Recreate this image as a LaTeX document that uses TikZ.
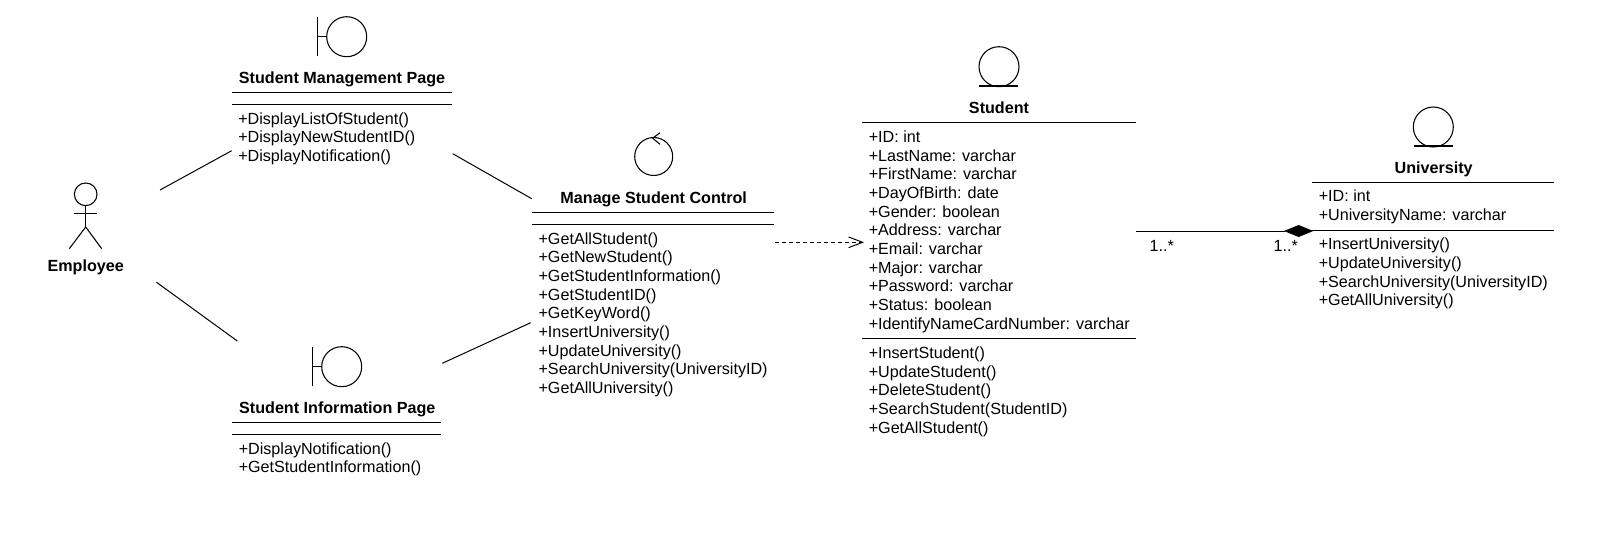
\documentclass[tikz,border=0pt]{standalone}
\usepackage{fontspec}
\setmainfont{Liberation Sans}
\usetikzlibrary{arrows.meta}
\tikzset{
classtitle/.style={
  font=\bfseries\fontsize{12.1pt}{14pt}\selectfont,
  text depth=0pt,
  inner sep=0pt
  }
}
\tikzset{
members/.style={
  font=\fontsize{12.1pt}{14pt}\selectfont,
  align=left,
  anchor=north west,
  inner sep=0pt
  }
}
\tikzset{
mult/.style={
  font=\fontsize{12.1pt}{14pt}\selectfont,
  inner sep=0pt
  }
}
\tikzstyle{rule} = [draw,line width=0.8pt]
\tikzstyle{edge} = [draw,line width=0.75pt]
\tikzstyle{glyph} = [draw,line width=0.8pt]
\begin{document}
\begin{tikzpicture}[x=0.75pt, y=-0.75pt]
	\path[use as bounding box] (0,0) rectangle (1603,532);

	%actor
	\node (empName) at (85.7,265.7) [classtitle] {Employee};
	\node (empHead) at (85.7,194.3) [circle,glyph,minimum size=17pt,inner sep=0pt] {};
	\coordinate (empHip) at (85.7,227);
	\draw[glyph] (empHead) -- (empHip);
	\draw[glyph] (74,213.3) -- (96.7,213.3);
	\draw[glyph] (69.3,248.7) -- (empHip) -- (101.7,248.7);

	%student management page
	\node (mgmtIcon) at (346.7,36.7) [circle,glyph,minimum size=30pt,inner sep=0pt] {};
	\draw[glyph] (317.3,17.3) -- (317.3,56);
	\draw[glyph] (317.3,36.7) -- (mgmtIcon);
	\node (mgmtName) at (342,77.7) [classtitle] {Student Management Page};
	\draw[rule] (232.3,92.3) -- (451.7,92.3);
	\draw[rule] (232.3,104.7) -- (451.7,104.7);
	\node (mgmtOps) at (238,112.3) [members] {+DisplayListOfStudent()\\+DisplayNewStudentID()\\+DisplayNotification()};

	%student information page
	\node (infoIcon) at (341.7,366.7) [circle,glyph,minimum size=30pt,inner sep=0pt] {};
	\draw[glyph] (312.7,347) -- (312.7,386);
	\draw[glyph] (312.7,366.7) -- (infoIcon);
	\node (infoName) at (337.3,407.7) [classtitle] {Student Information Page};
	\draw[rule] (232.3,422.3) -- (441.3,422.3);
	\draw[rule] (232.3,434.7) -- (441.3,434.7);
	\node (infoOps) at (238.5,442.3) [members] {+DisplayNotification()\\+GetStudentInformation()};

	%control
	\node (ctrlIcon) at (653.7,156.5) [circle,glyph,minimum size=28.5pt,inner sep=0pt] {};
	\draw[glyph] (660,132.7) -- (652.7,138.2) -- (660,144.3);
	\node (ctrlName) at (653.7,197.3) [classtitle] {Manage Student Control};
	\draw[rule] (532.3,212.3) -- (774.3,212.3);
	\draw[rule] (532.3,224.7) -- (774.3,224.7);
	\node (ctrlOps) at (538.3,232.3) [members] {+GetAllStudent()\\+GetNewStudent()\\+GetStudentInformation()\\+GetStudentID()\\+GetKeyWord()\\+InsertUniversity()\\+UpdateUniversity()\\+SearchUniversity(UniversityID)\\+GetAllUniversity()};

	%student
	\node (stuIcon) at (999,66.7) [circle,glyph,minimum size=30pt,inner sep=0pt] {};
	\draw[glyph] (979.3,86) -- (1018.3,86);
	\node (stuName) at (999,107.3) [classtitle] {Student};
	\draw[rule] (862.3,122.3) -- (1135.7,122.3);
	\node (stuAttrs) at (868.5,130.4) [members] {+ID: int\\+LastName: varchar\\+FirstName: varchar\\+DayOfBirth: date\\+Gender: boolean\\+Address: varchar\\+Email: varchar\\+Major: varchar\\+Password: varchar\\+Status: boolean\\+IdentifyNameCardNumber: varchar};
	\draw[rule] (862.3,338.7) -- (1135.7,338.7);
	\node (stuOps) at (868.5,346.7) [members] {+InsertStudent()\\+UpdateStudent()\\+DeleteStudent()\\+SearchStudent(StudentID)\\+GetAllStudent()};

	%university
	\node (uniIcon) at (1433.3,127) [circle,glyph,minimum size=30pt,inner sep=0pt] {};
	\draw[glyph] (1414,146) -- (1452.7,146);
	\node (uniName) at (1433.7,167.3) [classtitle] {University};
	\draw[rule] (1312.3,182.3) -- (1554,182.3);
	\node (uniAttrs) at (1318.5,190) [members] {+ID: int\\+UniversityName: varchar};
	\draw[rule] (1312.3,230.3) -- (1554,230.3);
	\node (uniOps) at (1318.5,238) [members] {+InsertUniversity()\\+UpdateUniversity()\\+SearchUniversity(UniversityID)\\+GetAllUniversity()};

	%edges
	\coordinate (empTop) at (160,190);
	\coordinate (mgmtLeft) at (231.7,150.7);
	\coordinate (mgmtRight) at (452.7,153.7);
	\coordinate (ctrlTop) at (531.7,198.7);
	\coordinate (empBottom) at (156.4,282.2);
	\coordinate (infoLeft) at (237.3,341);
	\coordinate (infoRight) at (442.3,363.3);
	\coordinate (ctrlBottom) at (530.7,322.7);
	\coordinate (ctrlRight) at (775,242.3);
	\coordinate (stuLeft) at (864,242.3);
	\coordinate (stuRight) at (1135.7,231);
	\coordinate (uniLeft) at (1313.3,231);
	\draw[edge] (empTop) -- (mgmtLeft);
	\draw[edge] (mgmtRight) -- (ctrlTop);
	\draw[edge] (empBottom) -- (infoLeft);
	\draw[edge] (infoRight) -- (ctrlBottom);
	\draw[edge,dash pattern=on 3pt off 2.25pt,-{Straight Barb[length=10.5pt,width=8pt]}] (ctrlRight) -- (stuLeft);
	\draw[edge,-{Diamond[fill=black,length=22pt,width=9pt]}] (stuRight) -- (uniLeft);
	\node (multStu) at (1161.7,245.7) [mult] {1..*};
	\node (multUni) at (1285.7,245.7) [mult] {1..*};
\end{tikzpicture}
\end{document}
